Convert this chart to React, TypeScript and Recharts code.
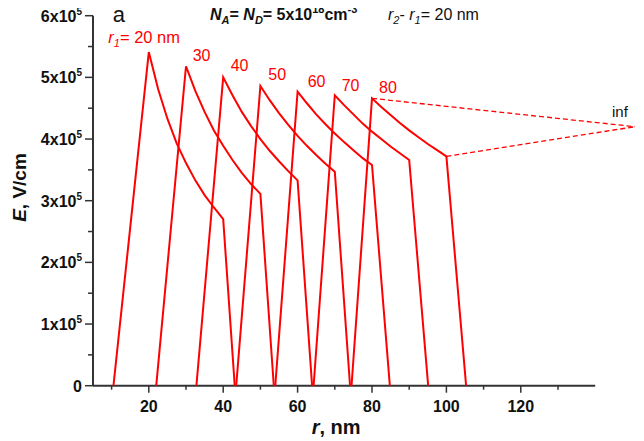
import React from 'react'
import { ComposedChart, Line, XAxis, YAxis, ReferenceLine } from 'recharts'

// r1 values (nm) and where each field profile starts / ends on the r axis
const R1 = [20, 30, 40, 50, 60, 70, 80]
const R_START = [10.5, 22.0, 32.8, 43.5, 54.0, 64.3, 74.5]
const R_END = [43.1, 53.6, 63.9, 74.1, 84.8, 95.1, 105.3]

// sample offsets from r1 (nm) along the decaying part, r1 .. r1 + 20
const DECAY_OFFSET = [0, 2.5, 5, 7.5, 10, 12.5, 15, 17.5, 20]

// E in units of 1e5 V/cm
const E_20 = [5.41, 4.81, 4.33, 3.93, 3.61, 3.33, 3.09, 2.89, 2.70]
const E_30 = [5.18, 4.78, 4.44, 4.14, 3.89, 3.66, 3.45, 3.27, 3.11]
const E_40 = [5.00, 4.71, 4.44, 4.21, 4.00, 3.81, 3.64, 3.48, 3.33]
const E_50 = [4.86, 4.63, 4.42, 4.23, 4.05, 3.89, 3.74, 3.60, 3.47]
const E_60 = [4.77, 4.58, 4.40, 4.24, 4.09, 3.95, 3.82, 3.69, 3.58]
const E_70 = [4.71, 4.55, 4.40, 4.25, 4.12, 4.00, 3.88, 3.77, 3.66]
const E_80 = [4.66, 4.52, 4.39, 4.26, 4.14, 4.03, 3.92, 3.82, 3.72]
const DECAY = [E_20, E_30, E_40, E_50, E_60, E_70, E_80]

// dashed lines toward r1 -> infinity
const INF_R = 150.7
const INF_E = 4.2
const DASH_UPPER = [{ r: 80, e: 4.66 }, { r: INF_R, e: INF_E }]
const DASH_LOWER = [{ r: 100, e: 3.72 }, { r: INF_R, e: INF_E }]

const X_TICKS = [10, 20, 30, 40, 50, 60, 70, 80, 90, 100, 110, 120, 130]
const Y_TICKS = [0, 0.5, 1, 1.5, 2, 2.5, 3, 3.5, 4, 4.5, 5, 5.5, 6]

const RED = '#ff0000'
const AXIS = '#333333'
const FONT = 'Arial, "Liberation Sans", sans-serif'

const curves = R1.map((r1, i) => [
  { r: R_START[i], e: 0 },
  ...DECAY[i].map((e, j) => ({ r: r1 + DECAY_OFFSET[j], e })),
  { r: R_END[i], e: 0 },
])

function XTick({ x, y, payload }: any) {
  const v = payload.value
  const major = v % 20 === 0
  return (
    <g>
      <line x1={x} x2={x} y1={y} y2={y + (major ? 7 : 4)} stroke={AXIS} strokeWidth={1.5} />
      {major && (
        <text x={x} y={y + 26} textAnchor="middle" fontFamily={FONT} fontWeight="bold" fontSize={16} fill="#111">
          {v}
        </text>
      )}
    </g>
  )
}

function YTick({ x, y, payload }: any) {
  const v = payload.value
  const major = Number.isInteger(v)
  return (
    <g>
      <line x1={x - (major ? 8 : 5)} x2={x} y1={y} y2={y} stroke={AXIS} strokeWidth={1.5} />
      {major && (
        <text x={x - 11} y={y + 6} textAnchor="end" fontFamily={FONT} fontWeight="bold" fontSize={16} fill="#111">
          {v === 0 ? '0' : (
            <>
              {v}x10<tspan dy={-7} fontSize={10}>5</tspan>
            </>
          )}
        </text>
      )}
    </g>
  )
}

const PEAK_LABELS = [
  { t: '30', x: 192.7, y: 61 },
  { t: '40', x: 230.7, y: 71 },
  { t: '50', x: 268.3, y: 80 },
  { t: '60', x: 307.7, y: 87.3 },
  { t: '70', x: 341.7, y: 90.7 },
  { t: '80', x: 379, y: 92.7 },
]

export default function App() {
  return (
    <div style={{ position: 'relative', width: 644, height: 441, margin: '-8px 0 0 -8px' }}>
      <ComposedChart width={644} height={441} margin={{ top: 15.7, right: 9, left: 0, bottom: 0 }}>
        <XAxis
          dataKey="r"
          type="number"
          domain={[5, INF_R]}
          ticks={X_TICKS}
          interval={0}
          height={55.3}
          axisLine={false}
          tickLine={false}
          tickSize={0}
          tickMargin={0}
          tick={<XTick />}
        />
        <YAxis
          dataKey="e"
          type="number"
          domain={[0, 6]}
          ticks={Y_TICKS}
          interval={0}
          width={93}
          axisLine={{ stroke: AXIS, strokeWidth: 2 }}
          tickLine={false}
          tickSize={0}
          tickMargin={0}
          tick={<YTick />}
        />
        <ReferenceLine segment={[{ x: 5, y: 0 }, { x: 140, y: 0 }]} stroke={AXIS} strokeWidth={2} />
        {curves.map((d, i) => (
          <Line
            key={R1[i]}
            data={d}
            dataKey="e"
            type="linear"
            stroke={RED}
            strokeWidth={2}
            dot={false}
            isAnimationActive={false}
          />
        ))}
        <Line data={DASH_UPPER} dataKey="e" type="linear" stroke={RED} strokeWidth={1.3} strokeDasharray="5 3" dot={false} isAnimationActive={false} />
        <Line data={DASH_LOWER} dataKey="e" type="linear" stroke={RED} strokeWidth={1.3} strokeDasharray="5 3" dot={false} isAnimationActive={false} />
      </ComposedChart>
      <svg width={644} height={441} style={{ position: 'absolute', left: 0, top: 0, pointerEvents: 'none' }}>
        <g fontFamily={FONT}>
          <text x={112.7} y={22} fontSize={22} fill="#111">a</text>
          <text x={210} y={20} fontSize={16} fontWeight="bold" fill="#111">
            <tspan fontStyle="italic">N</tspan>
            <tspan fontStyle="italic" fontSize={11} dy={4}>A</tspan>
            <tspan dy={-4}>= </tspan>
            <tspan fontStyle="italic">N</tspan>
            <tspan fontStyle="italic" fontSize={11} dy={4}>D</tspan>
            <tspan dy={-4}>= 5x10</tspan>
            <tspan fontSize={11} dy={-7}>18</tspan>
            <tspan dy={7}>cm</tspan>
            <tspan fontSize={11} dy={-7}>-3</tspan>
          </text>
          <text x={388} y={20} fontSize={16} fill="#111">
            <tspan fontStyle="italic">r</tspan>
            <tspan fontStyle="italic" fontSize={11} dy={4}>2</tspan>
            <tspan dy={-4}>- </tspan>
            <tspan fontStyle="italic">r</tspan>
            <tspan fontStyle="italic" fontSize={11} dy={4}>1</tspan>
            <tspan dy={-4}>= 20 nm</tspan>
          </text>
          <text x={108.3} y={43.3} fontSize={16.5} fill={RED}>
            <tspan fontStyle="italic">r</tspan>
            <tspan fontStyle="italic" fontSize={11} dy={4}>1</tspan>
            <tspan dy={-4}>= 20 nm</tspan>
          </text>
          {PEAK_LABELS.map((l) => (
            <text key={l.t} x={l.x} y={l.y} fontSize={16} fill={RED}>{l.t}</text>
          ))}
          <text x={612} y={116.7} fontSize={15} fill="#111">inf</text>
          <text x={311.7} y={434} fontSize={20} fontWeight="bold" fill="#111">
            <tspan fontStyle="italic">r</tspan>, nm
          </text>
          <text transform="translate(25.5, 187.5) rotate(-90)" textAnchor="middle" fontSize={19} fontWeight="bold" fill="#111">
            <tspan fontStyle="italic">E</tspan>, V/cm
          </text>
        </g>
      </svg>
    </div>
  )
}
